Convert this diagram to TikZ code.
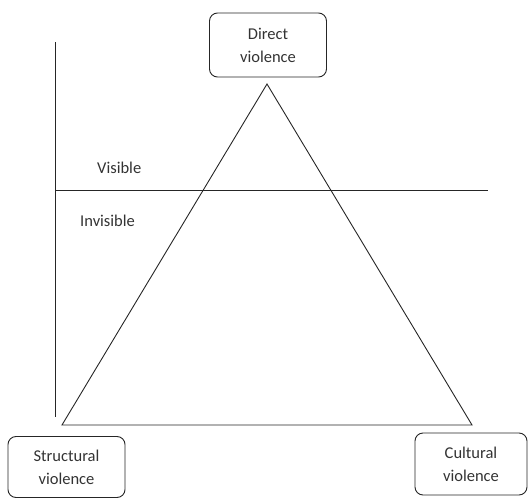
\documentclass[tikz,border=0pt]{standalone}
\usepackage{fontspec}
\setmainfont{Carlito}
\begin{document}
\begin{tikzpicture}[x=1pt,y=-1pt,
  vbox/.style={draw=black!85, line width=0.9pt, rounded corners=8pt, align=center, inner sep=0pt, font=\fontsize{16.5}{23}\selectfont, text=black!80},
  lbl/.style={anchor=base west, inner sep=0pt, font=\fontsize{16.5}{23}\selectfont, text=black!80},
  ln/.style={draw=black!85, line width=0.9pt}]
\useasboundingbox (0,0) rectangle (528,498);
\node[vbox, minimum width=117pt, minimum height=64pt] (direct) at (268,45) {Direct\\violence};
\node[vbox, minimum width=117pt, minimum height=61pt] (struct) at (66.5,467) {Structural\\violence};
\node[vbox, minimum width=112pt, minimum height=62pt] (cult) at (471,464) {Cultural\\violence};
\coordinate (apex) at (267,84);
\coordinate (bl) at (62,425);
\coordinate (br) at (472,425);
\coordinate (vtop) at (55,42);
\coordinate (vbot) at (55,417);
\coordinate (hl) at (55,190);
\coordinate (hr) at (488,190);
\draw[ln] (apex) -- (br) -- (bl) -- cycle;
\draw[ln] (vtop) -- (vbot);
\draw[ln] (hl) -- (hr);
\node[lbl] (vis) at (97,173) {Visible};
\node[lbl] (invis) at (80,226) {Invisible};
\end{tikzpicture}
\end{document}
